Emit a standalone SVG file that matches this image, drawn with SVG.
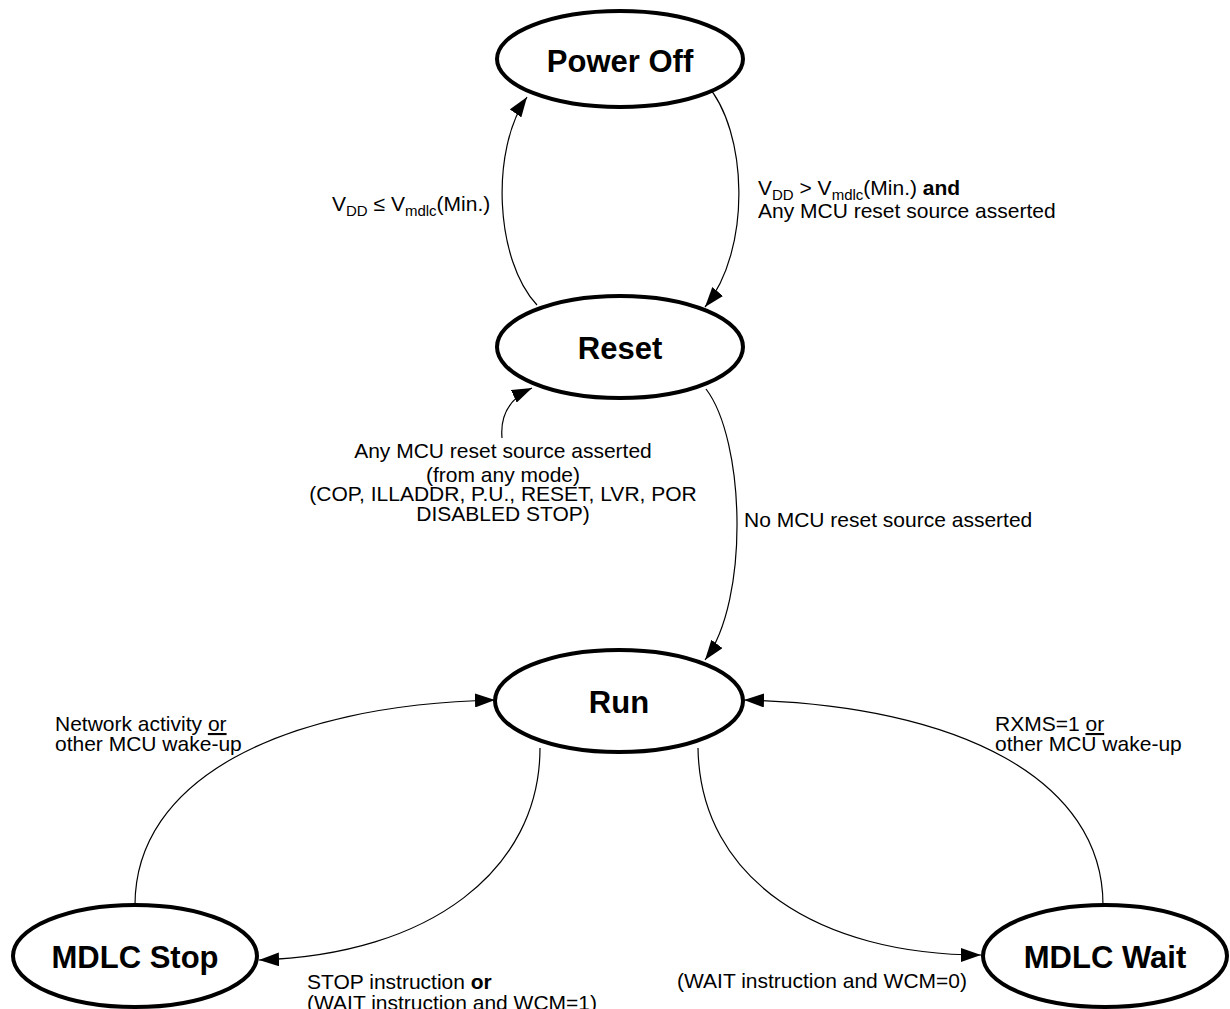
<svg xmlns="http://www.w3.org/2000/svg" width="1230" height="1009" viewBox="0 0 1230 1009">
<style>
.node ellipse{fill:#fff;stroke:#000;stroke-width:4}
.node text{font-family:"Liberation Sans",Arial,sans-serif;font-weight:bold;font-size:31px;text-anchor:middle;fill:#000}
.edge{fill:none;stroke:#000;stroke-width:1.2}
.lbl{font-family:"Liberation Sans",Arial,sans-serif;font-size:21px;fill:#000}
.sub{font-size:15px}
.u{text-decoration:underline}
.b{font-weight:bold}
</style>
<defs>
<marker id="ah" markerUnits="userSpaceOnUse" markerWidth="21" markerHeight="14" refX="20" refY="7" orient="auto">
<path d="M0,0 L20,7 L0,14 z" fill="#000"/>
</marker>
</defs>
<rect width="1230" height="1009" fill="#fff"/>
<g id="connectors">
<path class="edge" d="M537,305 C495,260 490,150 527,97" marker-end="url(#ah)"/>
<path class="edge" d="M706,84 C748,130 752,250 705,307" marker-end="url(#ah)"/>
<path class="edge" d="M502,438 C500,415 510,398 532,388" marker-end="url(#ah)"/>
<path class="edge" d="M706,389 C745,440 750,600 705,660" marker-end="url(#ah)"/>
<path class="edge" d="M540,748 C540,870 430,955 259,960" marker-end="url(#ah)"/>
<path class="edge" d="M135,905 C135,780 280,705 495,700" marker-end="url(#ah)"/>
<path class="edge" d="M698,748 C700,880 820,955 981,955" marker-end="url(#ah)"/>
<path class="edge" d="M1103,905 C1103,780 960,705 744,700" marker-end="url(#ah)"/>
</g>
<g id="labels">
<text class="lbl" x="332" y="211">V<tspan class="sub" dy="5">DD</tspan><tspan dy="-5"> ≤ V</tspan><tspan class="sub" dy="5">mdlc</tspan><tspan dy="-5">(Min.)</tspan></text>
<text class="lbl" x="758" y="195">V<tspan class="sub" dy="5">DD</tspan><tspan dy="-5"> &gt; V</tspan><tspan class="sub" dy="5">mdlc</tspan><tspan dy="-5">(Min.) </tspan><tspan class="b">and</tspan></text>
<text class="lbl" x="758" y="218">Any MCU reset source asserted</text>
<text class="lbl" x="503" y="458" text-anchor="middle">Any MCU reset source asserted</text>
<text class="lbl" x="503" y="482" text-anchor="middle">(from any mode)</text>
<text class="lbl" x="503" y="501" text-anchor="middle">(COP, ILLADDR, P.U., RESET, LVR, POR</text>
<text class="lbl" x="503" y="521" text-anchor="middle">DISABLED STOP)</text>
<text class="lbl" x="744" y="527">No MCU reset source asserted</text>
<text class="lbl" x="55" y="731">Network activity <tspan class="u">or</tspan></text>
<text class="lbl" x="55" y="751">other MCU wake-up</text>
<text class="lbl" x="995" y="731">RXMS=1 <tspan class="u">or</tspan></text>
<text class="lbl" x="995" y="751">other MCU wake-up</text>
<text class="lbl" x="307" y="989">STOP instruction <tspan class="b">or</tspan></text>
<text class="lbl" x="307" y="1010">(WAIT instruction and WCM=1)</text>
<text class="lbl" x="677" y="988">(WAIT instruction and WCM=0)</text>
</g>
<g id="power-off" class="node"><ellipse cx="620" cy="59" rx="123" ry="48"/><text x="620" y="72">Power Off</text></g>
<g id="reset" class="node"><ellipse cx="620" cy="347" rx="123" ry="51"/><text x="620" y="359">Reset</text></g>
<g id="run" class="node"><ellipse cx="619" cy="701" rx="124" ry="51"/><text x="619" y="713">Run</text></g>
<g id="mdlc-stop" class="node"><ellipse cx="135" cy="956" rx="122" ry="51"/><text x="135" y="968">MDLC Stop</text></g>
<g id="mdlc-wait" class="node"><ellipse cx="1105" cy="956" rx="122" ry="51"/><text x="1105" y="968">MDLC Wait</text></g>
</svg>
